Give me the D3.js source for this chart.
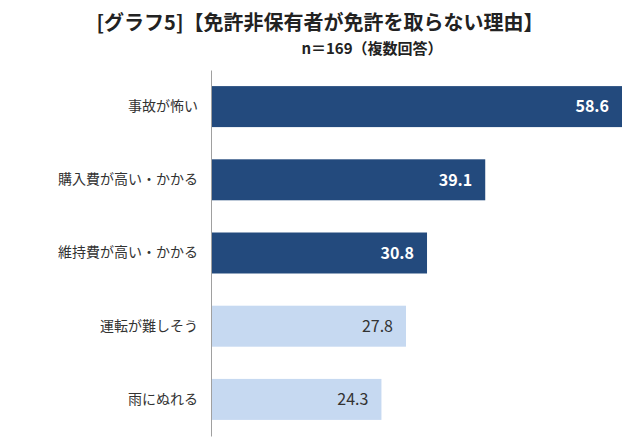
<!DOCTYPE html>
<html><head><meta charset="utf-8">
<script src="https://cdn.jsdelivr.net/npm/d3@7"></script>
<style>body{margin:0;background:#fff}svg{display:block}</style>
</head><body>
<div id="chart"></div>
<script>
const w = 640, h = 446;
const categories = ["事故が怖い", "購入費が高い・かかる", "維持費が高い・かかる", "運転が難しそう", "雨にぬれる"];
const values = [58.6, 39.1, 30.8, 27.8, 24.3];
const highlight = [true, true, true, false, false];

const m = {l: 211, r: 18, t: 70, b: 10};
const font = "'Noto Sans CJK JP', 'Noto Sans', sans-serif";

const svg = d3.select("#chart").append("svg").attr("width", w).attr("height", h);

const x = d3.scaleLinear().domain([0, 58.6]).range([m.l, 622]);
const y = d3.scaleBand().domain(categories).range([m.t, 436]).paddingInner(0.44).paddingOuter(0.22);

svg.append("text").attr("x", 320).attr("y", 30).attr("text-anchor", "middle")
  .attr("font-family", font).attr("font-weight", "bold").attr("font-size", 20).attr("fill", "#222")
  .text("[グラフ5]【免許非保有者が免許を取らない理由】");
svg.append("text").attr("x", 372).attr("y", 54).attr("text-anchor", "middle")
  .attr("font-family", font).attr("font-weight", "bold").attr("font-size", 15).attr("fill", "#222")
  .text("n＝169（複数回答）");

const data = categories.map((c, i) => ({c, v: values[i], hi: highlight[i]}));

svg.selectAll("rect.bar").data(data).join("rect")
  .attr("x", x(0)).attr("y", d => y(d.c))
  .attr("width", d => x(d.v) - x(0)).attr("height", y.bandwidth())
  .attr("fill", d => d.hi ? "#234a7d" : "#c6d9f1");

svg.selectAll("text.val").data(data).join("text")
  .attr("x", d => x(d.v) - 13).attr("y", d => y(d.c) + y.bandwidth() / 2)
  .attr("dy", "0.36em").attr("text-anchor", "end")
  .attr("font-family", font).attr("font-size", 16)
  .attr("font-weight", d => d.hi ? "bold" : "normal")
  .attr("fill", d => d.hi ? "#fff" : "#333")
  .text(d => d.v.toFixed(1));

svg.append("g").attr("transform", `translate(${m.l},0)`)
  .call(d3.axisLeft(y).tickSize(0).tickPadding(13))
  .call(g => g.select(".domain").attr("stroke", "#a0a0a0"))
  .call(g => g.selectAll("text").attr("font-family", font).attr("font-size", 14).attr("fill", "#333"));
</script>
</body></html>
